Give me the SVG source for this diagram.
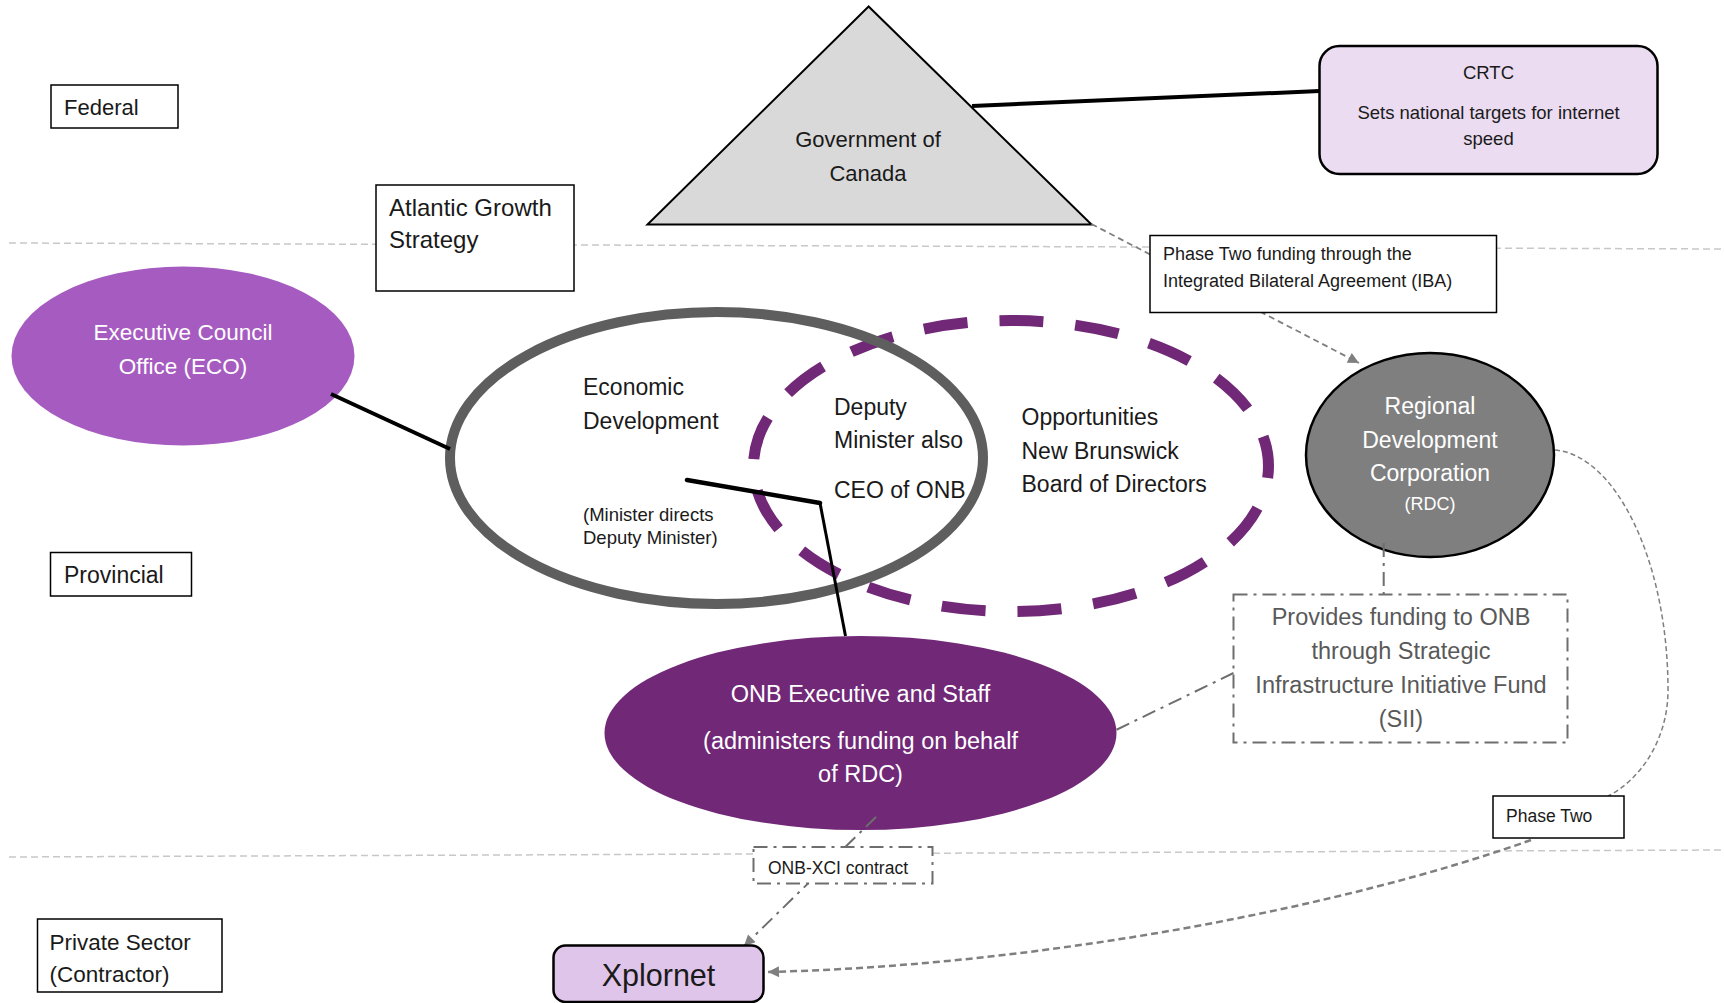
<svg xmlns="http://www.w3.org/2000/svg" width="1724" height="1003" viewBox="0 0 1724 1003">
<style>
.t{font-family:"Liberation Sans",Arial,sans-serif;fill:#1a1a1a}
.c{text-anchor:middle}
.w{fill:#ffffff}
.box{fill:#ffffff;stroke:#000;stroke-width:1.5}
.sep{stroke:#c8c8c8;stroke-width:1.5;stroke-dasharray:7 4;fill:none}
.dd{stroke:#6e6e6e;stroke-width:2;stroke-dasharray:14 6 3 6;fill:none}
.dash{stroke:#7f7f7f;fill:none}
.solid{stroke:#000;fill:none}
</style>
<defs>
<marker id="arr" viewBox="0 0 10 10" refX="10" refY="5" markerWidth="13" markerHeight="11" markerUnits="userSpaceOnUse" orient="auto">
<path d="M0,0 L10,5 L0,10 z" fill="#7f7f7f"/>
</marker>
</defs>
<rect width="1724" height="1003" fill="#ffffff"/>
<g id="separators">
<line class="sep" x1="9" y1="243" x2="1724" y2="249"/>
<line class="sep" x1="9" y1="857" x2="1724" y2="850"/>
</g>
<g id="government-of-canada">
<polygon points="868.6,6.5 647.5,224.5 1091.5,224.5" fill="#d9d9d9" stroke="#000" stroke-width="2"/>
<text class="t c" x="868" y="147" font-size="22">Government of</text>
<text class="t c" x="868" y="181" font-size="22">Canada</text>
</g>
<g id="crtc">
<rect x="1319.5" y="46" width="338" height="128" rx="20" fill="#ebdcf1" stroke="#000" stroke-width="2.5"/>
<text class="t c" x="1488.5" y="79" font-size="18.5">CRTC</text>
<text class="t c" x="1488.5" y="119" font-size="18.5">Sets national targets for internet</text>
<text class="t c" x="1488.5" y="145" font-size="18.5">speed</text>
</g>
<g id="eco">
<ellipse cx="183" cy="356" rx="171.5" ry="89.5" fill="#a65bc0"/>
<text class="t c w" x="183" y="340" font-size="22.5">Executive Council</text>
<text class="t c w" x="183" y="374" font-size="22.5">Office (ECO)</text>
</g>
<g id="onb-board">
<ellipse cx="1011" cy="466" rx="257.5" ry="145.5" fill="none" stroke="#702877" stroke-width="11" stroke-dasharray="44 32" stroke-dashoffset="32"/>
<text class="t" x="1021.5" y="425" font-size="23">Opportunities</text>
<text class="t" x="1021.5" y="459" font-size="23">New Brunswick</text>
<text class="t" x="1021.5" y="492" font-size="23">Board of Directors</text>
</g>
<g id="economic-development">
<ellipse cx="716.5" cy="458" rx="266.5" ry="146" fill="none" stroke="#5e5e5e" stroke-width="10"/>
<text class="t" x="583" y="395" font-size="23">Economic</text>
<text class="t" x="583" y="429" font-size="23">Development</text>
<text class="t" x="583" y="521" font-size="18.5">(Minister directs</text>
<text class="t" x="583" y="544" font-size="18.5">Deputy Minister)</text>
<text class="t" x="834" y="415" font-size="23">Deputy</text>
<text class="t" x="834" y="448" font-size="23">Minister also</text>
<text class="t" x="834" y="498" font-size="23">CEO of ONB</text>
</g>
<g id="rdc">
<ellipse cx="1430" cy="455" rx="124" ry="102" fill="#7f7f7f" stroke="#000" stroke-width="2.5"/>
<text class="t c w" x="1430" y="414" font-size="23">Regional</text>
<text class="t c w" x="1430" y="448" font-size="23">Development</text>
<text class="t c w" x="1430" y="481" font-size="23">Corporation</text>
<text class="t c w" x="1430" y="510" font-size="18">(RDC)</text>
</g>
<g id="onb-executive">
<ellipse cx="860.5" cy="733" rx="256" ry="97" fill="#702877"/>
<text class="t c w" x="860.5" y="702" font-size="23.5">ONB Executive and Staff</text>
<text class="t c w" x="860.5" y="749" font-size="23.5">(administers funding on behalf</text>
<text class="t c w" x="860.5" y="782" font-size="23.5">of RDC)</text>
</g>
<g id="connectors">
<line class="solid" x1="972" y1="106" x2="1319.5" y2="91" stroke-width="4"/>
<line class="solid" x1="331" y1="394" x2="450" y2="449" stroke-width="4"/>
<line class="solid" x1="687" y1="480" x2="820" y2="503" stroke-width="4.5" stroke-linecap="round"/>
<line class="solid" x1="820" y1="503" x2="845.5" y2="636" stroke-width="3"/>
<line class="dash" x1="1091.5" y1="224" x2="1359" y2="363" stroke-width="1.8" stroke-dasharray="6 4" marker-end="url(#arr)"/>
<line class="dd" x1="1383.7" y1="543" x2="1383.7" y2="594.5"/>
<line class="dd" x1="1233.5" y1="673" x2="1116" y2="730"/>
<line class="dd" x1="876" y1="817" x2="744" y2="946" stroke="#7f7f7f" marker-end="url(#arr)"/>
<path class="dash" d="M1555,450 C1615,455 1668,560 1668,690 C1668,740 1640,780 1608,796" stroke-width="1.5" stroke-dasharray="5 3"/>
<path class="dash" d="M1531,840 C1350,905 1050,965 768,972" stroke-width="2.5" stroke-dasharray="7 4" marker-end="url(#arr)"/>
</g>
<g id="federal">
<rect class="box" x="51" y="85" width="127" height="43"/>
<text class="t" x="64" y="115" font-size="22">Federal</text>
</g>
<g id="atlantic-growth">
<rect class="box" x="376" y="185" width="198" height="106"/>
<text class="t" x="389" y="216" font-size="24">Atlantic Growth</text>
<text class="t" x="389" y="248" font-size="24">Strategy</text>
</g>
<g id="provincial">
<rect class="box" x="50.5" y="552.5" width="141" height="43.5"/>
<text class="t" x="64" y="583" font-size="23">Provincial</text>
</g>
<g id="private-sector">
<rect class="box" x="37.5" y="919" width="184.5" height="73"/>
<text class="t" x="49.5" y="950" font-size="22.5">Private Sector</text>
<text class="t" x="49.5" y="982" font-size="22.5">(Contractor)</text>
</g>
<g id="phase-two-funding">
<rect class="box" x="1150" y="235.5" width="346.5" height="77"/>
<text class="t" x="1163" y="260" font-size="18">Phase Two funding through the</text>
<text class="t" x="1163" y="287" font-size="18">Integrated Bilateral Agreement (IBA)</text>
</g>
<g id="sii-funding">
<rect class="dd" x="1233.5" y="594.5" width="334" height="148" fill="#ffffff"/>
<text class="t c" x="1401" y="625" font-size="23.5" fill="#595959" style="fill:#595959">Provides funding to ONB</text>
<text class="t c" x="1401" y="659" font-size="23.5" style="fill:#595959">through Strategic</text>
<text class="t c" x="1401" y="693" font-size="23.5" style="fill:#595959">Infrastructure Initiative Fund</text>
<text class="t c" x="1401" y="727" font-size="23.5" style="fill:#595959">(SII)</text>
</g>
<g id="onb-xci-contract">
<rect class="dd" x="753.5" y="847" width="179" height="36.5" style="fill:#ffffff"/>
<text class="t" x="768" y="874" font-size="17.5">ONB-XCI contract</text>
</g>
<g id="phase-two">
<rect class="box" x="1493" y="796" width="131" height="42"/>
<text class="t" x="1506" y="822" font-size="17.5">Phase Two</text>
</g>
<g id="xplornet">
<rect x="553.5" y="945.5" width="210" height="56.5" rx="12" fill="#e0c5ea" stroke="#000" stroke-width="2.5"/>
<text class="t c" x="658.5" y="986" font-size="30.5">Xplornet</text>
</g>
</svg>
